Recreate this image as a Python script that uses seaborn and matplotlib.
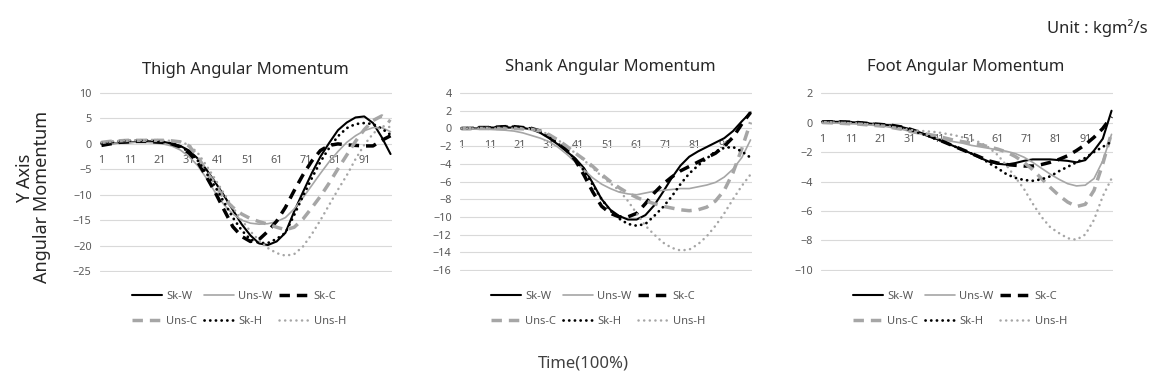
import numpy as np
import matplotlib
matplotlib.use("Agg")
import matplotlib.pyplot as plt
import seaborn as sns

# ---------------- data ----------------
time_pct = list(range(1, 101, 3))          # 1, 4, 7, ..., 100
category_ticks = list(range(1, 100, 10))   # 1, 11, ..., 91
series_names = ["Sk-W", "Uns-W", "Sk-C", "Uns-C", "Sk-H", "Uns-H"]

# Thigh
thigh_sk_w = [0, 0.1, 0.2, 0.3, 0.4, 0.5, 0.5, 0.4, 0.1, -0.4, -1.3, -2.9, -5.1, -7.6, -10.2, -13, -15.8,
              -18, -19.6, -19.9, -19.2, -17.5, -13.3, -9.5, -5.8, -2.5, 0.2, 2.7, 4.2, 5.2, 5.4, 4.1, 1.3, -2]
thigh_uns_w = [0, 0.1, 0.2, 0.3, 0.3, 0.3, 0.2, 0, -0.4, -1.2, -2.5, -4.3, -6.8, -9.6, -12, -13.8, -15,
               -15.6, -15.8, -15.7, -15.3, -14.5, -12.8, -10.6, -8.2, -5.8, -3.5, -1.5, 0.3, 1.6, 2.6, 3.2, 3.2, 2.4]
thigh_sk_c = [-0.3, 0, 0.3, 0.4, 0.5, 0.5, 0.4, 0.3, 0, -0.6, -1.8, -3.6, -6.5, -9.6, -13, -16.3, -18.2,
              -19.2, -18.8, -17.2, -15.2, -12.5, -9.2, -6.1, -3.4, -1.3, -0.3, 0, -0.2, -0.3, -0.4, -0.4, 0.7, 1.6]
thigh_uns_c = [0.3, 0.5, 0.6, 0.7, 0.7, 0.7, 0.7, 0.7, 0.6, 0.4, -0.4, -2.5, -5.5, -8, -10.8, -12.5, -13.8,
               -14.7, -15.3, -15.8, -16.4, -16.9, -16.4, -14.8, -12.6, -10.3, -7.7, -4.9, -2.2, 0.5, 2.8, 4.6, 5.5, 4.3]
thigh_sk_h = [0.2, 0.3, 0.5, 0.6, 0.6, 0.7, 0.6, 0.4, 0.1, -0.5, -1.6, -3.3, -5.8, -8.5, -11.5, -14.5, -17,
              -18.8, -19.5, -19.5, -18.7, -17.5, -14, -10.3, -6.8, -3.5, -0.8, 1.5, 3.1, 3.9, 4.1, 3.9, 3, 1.8]
thigh_uns_h = [0.3, 0.5, 0.6, 0.7, 0.7, 0.8, 0.8, 0.7, 0.6, 0.4, -0.2, -1.8, -4.3, -7, -9.8, -12.5, -15,
               -17.2, -19, -20.5, -21.5, -22, -21.7, -20.2, -17.8, -15, -12, -9, -6.2, -3, -0.2, 2, 3.5, 3.3]

# Shank
shank_sk_w = [0, 0, 0, 0.1, 0.1, 0.1, 0.1, 0.05, -0.1, -0.5, -1.1, -1.8, -2.6, -3.4, -4.5, -6.2, -8,
              -9.2, -9.9, -10.3, -10.3, -9.8, -8.7, -7.2, -5.6, -4.2, -3.2, -2.6, -2.1, -1.6, -1.1, -0.3, 0.8, 1.8]
shank_uns_w = [0, -0.05, -0.1, -0.1, -0.15, -0.2, -0.3, -0.5, -0.8, -1.1, -1.5, -2.1, -2.9, -3.8, -4.7, -5.6, -6.3,
               -6.8, -7.2, -7.4, -7.5, -7.3, -7.1, -7, -6.9, -6.8, -6.8, -6.6, -6.4, -6.1, -5.5, -4.6, -3.3, -1.3]
shank_sk_c = [0, 0, 0.1, 0.1, 0.15, 0.2, 0.2, 0.1, 0, -0.3, -0.9, -1.6, -2.4, -3.6, -5.3, -7.2, -8.8,
              -9.6, -10, -10, -9.6, -8.5, -7.3, -6.3, -5.5, -4.8, -4.3, -3.8, -3.3, -2.8, -2, -1, 0.5, 1.8]
shank_uns_c = [0, 0, 0, 0, 0, 0, 0, -0.05, -0.1, -0.3, -0.7, -1.3, -2, -2.8, -3.5, -4.3, -5.2,
               -6, -6.7, -7.3, -7.8, -8.2, -8.5, -8.8, -9, -9.2, -9.3, -9.2, -8.9, -8.2, -7, -5, -2.3, 0.7]
shank_sk_h = [0, 0.05, 0.1, 0.1, 0.15, 0.2, 0.2, 0.1, 0, -0.4, -1, -1.7, -2.5, -3.5, -4.8, -6.4, -8,
              -9.3, -10.2, -10.8, -11, -10.8, -9.9, -8.9, -7.7, -6.3, -5.1, -4.2, -3.4, -2.6, -2.2, -2.1, -2.6, -3.3]
shank_uns_h = [0, 0, 0, 0, 0, 0, 0, -0.05, -0.1, -0.3, -0.7, -1.3, -2, -2.8, -3.6, -4.5, -5.4,
               -6.2, -7, -8.2, -9.6, -11, -12, -12.9, -13.5, -13.8, -13.7, -13.1, -12.2, -11, -9.6, -8, -6.5, -5.2]

# Foot
foot_sk_w = [0.05, 0.05, 0.05, 0.03, 0, -0.05, -0.1, -0.15, -0.2, -0.3, -0.45, -0.65, -0.85, -1.1, -1.35, -1.6, -1.85,
             -2.1, -2.4, -2.65, -2.8, -2.85, -2.75, -2.6, -2.5, -2.5, -2.5, -2.55, -2.6, -2.7, -2.55, -1.9, -1.1, 0.8]
foot_uns_w = [0, -0.02, -0.05, -0.08, -0.1, -0.15, -0.2, -0.25, -0.35, -0.45, -0.6, -0.75, -0.9, -1.05, -1.2, -1.3, -1.4,
              -1.55, -1.65, -1.75, -1.85, -1.95, -2.1, -2.35, -2.7, -3.1, -3.5, -3.85, -4.15, -4.3, -4.25, -3.8, -2.6, -0.8]
foot_sk_c = [0.05, 0.05, 0.05, 0.03, 0, -0.05, -0.1, -0.15, -0.2, -0.3, -0.45, -0.65, -0.85, -1.1, -1.35, -1.6, -1.85,
             -2.1, -2.35, -2.6, -2.75, -2.85, -2.9, -2.95, -2.95, -2.85, -2.7, -2.5, -2.25, -1.9, -1.5, -1, -0.4, 0.4]
foot_uns_c = [0, -0.02, -0.05, -0.08, -0.1, -0.15, -0.2, -0.25, -0.35, -0.45, -0.6, -0.7, -0.8, -0.9, -1.05, -1.2, -1.3,
              -1.4, -1.5, -1.65, -1.8, -2, -2.3, -2.7, -3.2, -3.8, -4.4, -4.95, -5.4, -5.7, -5.55, -4.6, -2.8, -0.7]
foot_sk_h = [0.05, 0.05, 0.05, 0.03, 0, -0.05, -0.1, -0.15, -0.25, -0.35, -0.5, -0.7, -0.9, -1.1, -1.35, -1.6, -1.85,
             -2.1, -2.35, -2.75, -3.1, -3.5, -3.75, -3.9, -3.95, -3.85, -3.65, -3.3, -3, -2.7, -2.4, -2, -1.65, -1.3]
foot_uns_h = [0, 0, 0, -0.02, -0.05, -0.1, -0.15, -0.2, -0.3, -0.4, -0.5, -0.55, -0.6, -0.65, -0.75, -0.85, -1,
              -1.15, -1.35, -1.7, -2.2, -2.9, -3.7, -4.5, -5.5, -6.4, -7.1, -7.5, -7.85, -7.95, -7.6, -6.6, -5, -3.8]

panel_titles = ["Thigh Angular Momentum", "Shank Angular Momentum", "Foot Angular Momentum"]
panel_data = [
    dict(zip(series_names, [thigh_sk_w, thigh_uns_w, thigh_sk_c, thigh_uns_c, thigh_sk_h, thigh_uns_h])),
    dict(zip(series_names, [shank_sk_w, shank_uns_w, shank_sk_c, shank_uns_c, shank_sk_h, shank_uns_h])),
    dict(zip(series_names, [foot_sk_w, foot_uns_w, foot_sk_c, foot_uns_c, foot_sk_h, foot_uns_h])),
]
y_ranges = [(-25, 10, 5), (-16, 4, 2), (-10, 2, 2)]

# ---------------- style ----------------
sns.set_style("white")
plt.rcParams["font.family"] = ["Noto Sans", "DejaVu Sans"]

GRAY = "#a6a6a6"
styles = {
    "Sk-W": dict(color="black", linewidth=1.5, linestyle="-"),
    "Uns-W": dict(color=GRAY, linewidth=1.2, linestyle="-"),
    "Sk-C": dict(color="black", linewidth=2.5, linestyle=(0, (3, 2)), dash_capstyle="butt"),
    "Uns-C": dict(color=GRAY, linewidth=2.5, linestyle=(0, (3, 2)), dash_capstyle="butt"),
    "Sk-H": dict(color="black", linewidth=2.0, linestyle=(0, (0.05, 2.0)), dash_capstyle="round"),
    "Uns-H": dict(color=GRAY, linewidth=1.8, linestyle=(0, (0.05, 2.2)), dash_capstyle="round"),
}

W, H = 1175, 388
fig = plt.figure(figsize=(W / 100, H / 100), dpi=100)

# pixel boxes: left, top, right, bottom
boxes = [(100, 92, 392, 272), (460, 92, 752, 271), (821, 92, 1113, 271)]
title_pos = [(245, 70), (610, 67), (966, 67)]
legend_cx = [239, 598, 960]

for k in range(3):
    l, t, r, b = boxes[k]
    ax = fig.add_axes([l / W, 1 - b / H, (r - l) / W, (b - t) / H])
    data = panel_data[k]
    handles = {}
    for name in series_names:
        sns.lineplot(x=time_pct, y=data[name], ax=ax, legend=False, **styles[name])
        line = ax.lines[-1]
        line.set_label(name)
        handles[name] = line

    lo, hi, step = y_ranges[k]
    eps = (hi - lo) * 0.006
    ax.set_ylim(lo - eps, hi + eps)
    ax.set_yticks(np.arange(lo, hi + step / 2, step))
    ax.set_xlim(0.5, 100.5)
    ax.set_xticks(category_ticks)
    ax.set_xticklabels([str(c) for c in category_ticks])
    ax.set_axisbelow(True)
    ax.grid(axis="y", color="#d9d9d9", linewidth=0.8)
    ax.grid(axis="x", visible=False)
    for s in ["top", "right", "left"]:
        ax.spines[s].set_visible(False)
    ax.spines["bottom"].set_position(("data", 0))
    ax.spines["bottom"].set_visible(False)
    ax.tick_params(axis="x", length=0, pad=8, labelsize=7.8, labelcolor="#595959")
    ax.tick_params(axis="y", length=0, pad=6, labelsize=7.8, labelcolor="#595959")
    ax.set_xlabel("")
    ax.set_ylabel("")

    order = ["Sk-W", "Uns-C", "Uns-W", "Sk-H", "Sk-C", "Uns-H"]
    ax.legend(handles=[handles[n] for n in order], loc="center",
              bbox_to_anchor=(legend_cx[k] / W, 1 - 309 / H), bbox_transform=fig.transFigure,
              ncol=3, frameon=False, fontsize=8, handlelength=2.7, handletextpad=0.4,
              columnspacing=0.6, labelspacing=1.2, labelcolor="#595959")

    tx, ty = title_pos[k]
    fig.text(tx / W, 1 - ty / H, panel_titles[k], ha="center", va="center",
             fontsize=12, color="#262626")

fig.text(1148 / W, 1 - 28 / H, "Unit : kgm²/s", ha="right", va="center", fontsize=12, color="#262626")
fig.text(583 / W, 1 - 363 / H, "Time(100%)", ha="center", va="center", fontsize=12, color="#404040")
fig.text(25 / W, 1 - 178 / H, "Y Axis", rotation=90, ha="center", va="center", fontsize=13, color="#262626")
fig.text(42 / W, 1 - 197 / H, "Angular Momentum", rotation=90, ha="center", va="center", fontsize=13, color="#262626")

fig.savefig("out.png", dpi=100)
